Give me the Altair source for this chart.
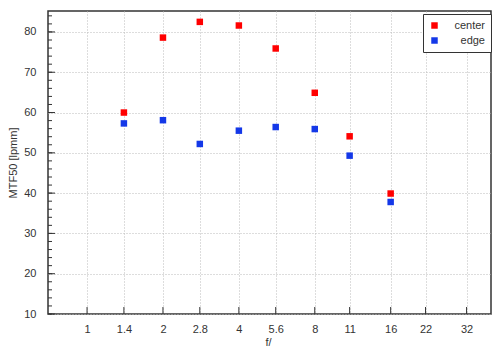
import altair as alt
import pandas as pd

fstops = [1.4, 2, 2.8, 4, 5.6, 8, 11, 16]
center = [60.0, 78.6, 82.5, 81.6, 75.9, 64.9, 54.1, 39.9]
edge = [57.3, 58.1, 52.2, 55.5, 56.4, 55.9, 49.3, 37.8]
x_ticks = [1, 1.4, 2, 2.8, 4, 5.6, 8, 11, 16, 22, 32]
y_major = [10, 20, 30, 40, 50, 60, 70, 80]
y_minor = list(range(10, 86, 2))

W, H = 443, 303
FONT = "Liberation Sans"

rows = []
for f, c, e in zip(fstops, center, edge):
    rows.append({"f": f, "mtf": c, "series": "center"})
    rows.append({"f": f, "mtf": e, "series": "edge"})
df = pd.DataFrame(rows)

xscale = alt.Scale(type="log", domain=[0.7, 40], nice=False)
yscale = alt.Scale(domain=[10, 85.2], nice=False, zero=False)

points = alt.Chart(df).mark_square(size=42, opacity=1).encode(
    x=alt.X("f:Q", scale=xscale,
            axis=alt.Axis(values=x_ticks, labelExpr="format(datum.value, '~g')",
                          title="f/", ticks=False, grid=True, gridColor="#bbbbbb",
                          gridDash=[1, 2], labelPadding=9, titleX=220, titleY=31,
                          titleBaseline="alphabetic", titleFontWeight="normal")),
    y=alt.Y("mtf:Q", scale=yscale,
            axis=alt.Axis(values=y_major, title="MTF50 [lpmm]", ticks=False,
                          grid=True, gridColor="#bbbbbb", gridDash=[1, 2],
                          labelPadding=12, titleX=-35, titleY=H / 2,
                          titleAlign="center", titleBaseline="middle",
                          titleFontWeight="normal")),
    color=alt.Color("series:N",
                    scale=alt.Scale(domain=["center", "edge"], range=["#ff0000", "#1438e8"]),
                    legend=alt.Legend(title=None, orient="none", legendX=375, legendY=3,
                                      strokeColor="#333333", fillColor="white",
                                      padding=6, symbolType="square", symbolSize=42,
                                      labelAlign="right", labelOffset=45,
                                      labelFontSize=11, rowPadding=3)),
)

ymaj_df = pd.DataFrame({"v": y_major})
ymin_df = pd.DataFrame({"v": y_minor})
x_df = pd.DataFrame({"v": x_ticks})

ymaj_ticks = alt.Chart(ymaj_df).mark_rule(color="#333333", strokeWidth=1).encode(
    y=alt.Y("v:Q", scale=yscale), x=alt.value(0), x2=alt.value(7))
ymin_ticks = alt.Chart(ymin_df).mark_rule(color="#333333", strokeWidth=1).encode(
    y=alt.Y("v:Q", scale=yscale), x=alt.value(0), x2=alt.value(4))
x_tick_marks = alt.Chart(x_df).mark_rule(color="#333333", strokeWidth=1).encode(
    x=alt.X("v:Q", scale=xscale), y=alt.value(H), y2=alt.value(H - 7))

chart = alt.layer(points, ymaj_ticks, ymin_ticks, x_tick_marks).properties(
    width=W, height=H,
    autosize=alt.AutoSizeParams(type="none"),
    padding={"left": 40, "top": 3, "right": 1, "bottom": 34},
).configure_view(stroke="#333333", strokeWidth=1.5).configure_axis(
    domain=False, labelFont=FONT, titleFont=FONT, labelFontSize=11, titleFontSize=11,
    labelColor="#333333", titleColor="#333333",
).configure_legend(labelFont=FONT, labelColor="#333333")

chart.save("out.html", embed_options={"renderer": "svg", "actions": False})
